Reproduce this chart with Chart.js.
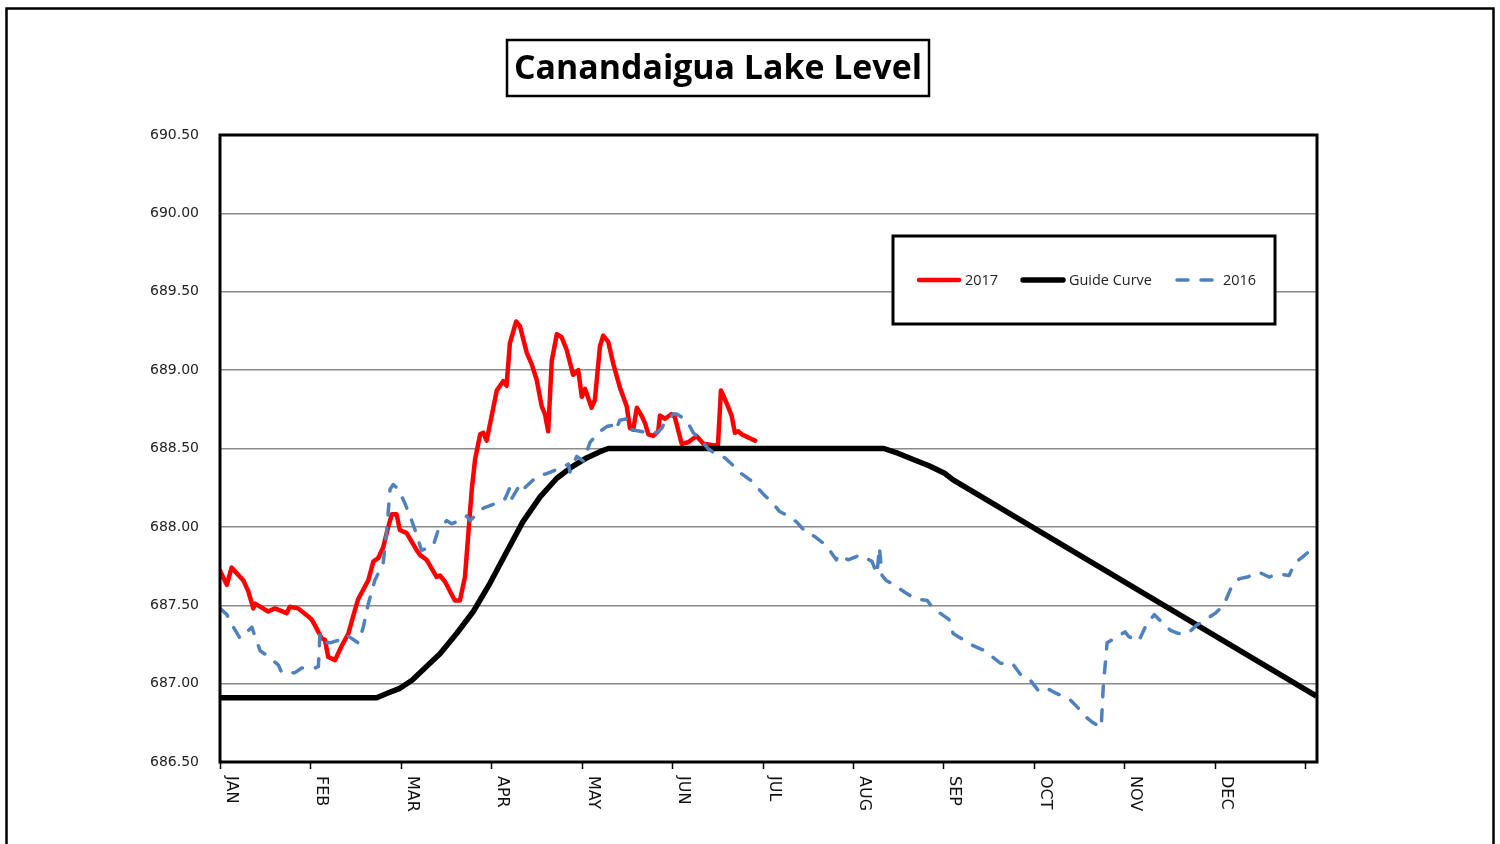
<!DOCTYPE html>
<html>
<head>
<meta charset="utf-8">
<script src="https://cdn.jsdelivr.net/npm/chart.js"></script>
<style>
  html, body { margin: 0; padding: 0; background: #ffffff; }
  #wrap { width: 1500px; height: 844px; position: relative; }
</style>
</head>
<body>
<div id="wrap"><canvas id="c" width="1500" height="844"></canvas></div>
<script>
// ---------- DATA ----------
const chartTitle = 'Canandaigua Lake Level';
const monthLabels = ['JAN','FEB','MAR','APR','MAY','JUN','JUL','AUG','SEP','OCT','NOV','DEC'];
const monthTickDays = [0, 30.4, 60.8, 91.3, 121.7, 152.1, 182.5, 212.9, 243.3, 273.8, 304.2, 334.6, 365];
const yTickLabels = ['686.50','687.00','687.50','688.00','688.50','689.00','689.50','690.00','690.50'];

const days2017 = [0,2.3,3.9,7.8,9.5,11.2,11.8,16.2,18.5,22.4,23.5,26.3,30.8,32.0,34.2,35.3,36.4,38.7,40.9,43.2,44.8,46.5,49.9,51.6,53.2,54.9,56.6,57.8,59.4,60.5,62.8,66.2,67.3,69.5,72.9,74.0,75.7,79.0,80.7,82.4,84.7,85.8,87.5,88.6,89.7,93.1,95.3,96.4,97.5,99.6,100.9,103.2,104.8,106.5,108.2,109.3,110.4,111.6,113.3,114.9,116.6,118.8,120.5,121.7,122.8,125.0,126.1,127.8,128.9,130.6,132.3,134.5,136.8,137.9,139.0,140.2,141.8,143.0,144.1,145.7,147.4,148.0,149.7,151.9,153.0,155.3,157.5,160.3,162.6,166.5,167.5,168.5,170.4,172.1,173.2,174.3,175.5,178.8,180.0];
const level2017 = [687.72,687.63,687.74,687.66,687.59,687.48,687.51,687.46,687.48,687.45,687.49,687.48,687.41,687.37,687.29,687.28,687.17,687.15,687.24,687.32,687.43,687.54,687.66,687.78,687.80,687.87,688.00,688.08,688.08,687.98,687.96,687.85,687.82,687.79,687.68,687.69,687.65,687.53,687.53,687.68,688.24,688.43,688.59,688.60,688.55,688.87,688.93,688.90,689.17,689.31,689.28,689.11,689.04,688.94,688.77,688.72,688.61,689.06,689.23,689.21,689.13,688.97,689.00,688.83,688.88,688.76,688.81,689.15,689.22,689.18,689.04,688.89,688.77,688.63,688.62,688.76,688.71,688.66,688.59,688.58,688.61,688.71,688.69,688.72,688.70,688.53,688.54,688.58,688.53,688.52,688.52,688.87,688.79,688.71,688.60,688.61,688.59,688.56,688.55];

const daysGuide = [0,52.7,56.5,60.5,64.5,68.4,74.0,79.6,85.2,90.8,96.4,101.8,107.6,113.3,118.1,123.3,127.8,130.6,223.3,228.0,233.2,238.5,243.9,246.6,368.8];
const levelGuide = [686.91,686.91,686.94,686.97,687.02,687.09,687.19,687.32,687.46,687.64,687.84,688.03,688.19,688.31,688.38,688.44,688.48,688.50,688.50,688.47,688.43,688.39,688.34,688.30,686.92];

const days2016 = [0,2.3,4.5,6.7,10.7,11.8,13.5,15.7,19.6,20.8,25.2,27.5,32.0,33.1,33.6,34.2,37.0,40.4,42.6,46.5,48.2,49.9,52.1,54.9,56.1,57.2,58.3,60.0,62.2,64.5,65.6,67.8,71.7,73.4,76.3,77.9,80.7,83.0,84.1,87.5,88.6,94.2,95.9,97.5,98.1,100.9,102.0,106.5,109.9,113.8,117.2,117.7,120.0,122.2,124.5,127.2,130.1,132.3,133.2,134.5,136.8,138.4,141.3,144.6,146.9,148.6,149.7,152.5,153.6,157.0,159.2,162.0,164.1,167.1,169.9,173.8,175.4,178.3,179.4,182.7,186.0,188.1,192.0,194.0,197.3,200.0,204.0,207.3,208.0,211.3,215.3,219.3,221.0,221.8,222.7,224.0,226.7,230.6,233.9,237.9,239.9,245.2,246.6,249.2,252.5,257.2,259.2,262.5,266.5,269.2,271.8,275.1,277.1,281.1,285.8,288.4,291.1,293.7,296.4,297.1,298.4,301.0,304.4,305.7,309.0,311.7,314.3,316.4,319.7,322.3,325.6,328.3,331.6,334.9,337.6,340.3,342.9,345.6,349.6,352.9,356.2,359.6,361.6,364.3,366.7,368.2];
const level2016 = [687.48,687.44,687.36,687.29,687.36,687.30,687.21,687.18,687.12,687.07,687.07,687.10,687.10,687.11,687.31,687.26,687.26,687.28,687.31,687.26,687.36,687.51,687.66,687.77,687.98,688.24,688.27,688.24,688.15,688.04,687.98,687.85,687.88,687.98,688.04,688.02,688.04,688.07,688.04,688.10,688.12,688.16,688.18,688.25,688.18,688.27,688.24,688.32,688.34,688.37,688.40,688.35,688.45,688.42,688.54,688.60,688.64,688.65,688.62,688.68,688.69,688.62,688.61,688.60,688.60,688.63,688.67,688.72,688.72,688.68,688.60,688.55,688.50,688.46,688.44,688.37,688.34,688.30,688.28,688.21,688.15,688.10,688.06,688.03,687.96,687.94,687.88,687.79,687.82,687.79,687.82,687.78,687.70,687.87,687.69,687.66,687.63,687.58,687.54,687.53,687.48,687.41,687.32,687.29,687.25,687.21,687.18,687.13,687.13,687.06,687.04,686.96,686.98,686.94,686.90,686.85,686.79,686.75,686.72,686.98,687.26,687.29,687.33,687.30,687.27,687.38,687.44,687.40,687.34,687.32,687.32,687.37,687.41,687.45,687.50,687.62,687.67,687.68,687.71,687.68,687.70,687.69,687.77,687.81,687.85,687.83];

const seriesNames = ['2017', 'Guide Curve', '2016'];

// ---------- BUILD ----------
const pts = (xs, ys) => xs.map((d, i) => ({ x: d, y: ys[i] }));

function fitSize(ctx, text, weight, family, width) {
  ctx.font = weight + ' 100px ' + family;
  return 100 * width / ctx.measureText(text).width;
}

const decorPlugin = {
  id: 'decor',
  afterDraw(chart) {
    const ctx = chart.ctx;
    const a = chart.chartArea;
    const xs = chart.scales.x;
    ctx.save();

    // outer frame
    ctx.strokeStyle = '#000';
    ctx.lineWidth = 2.5;
    ctx.strokeRect(6.5, 8.5, 1487, 900);

    // plot frame
    ctx.lineWidth = 3;
    ctx.strokeRect(a.left, a.top, a.right - a.left, a.bottom - a.top);

    // x tick marks + rotated labels
    ctx.lineWidth = 1.5;
    ctx.fillStyle = '#111';
    ctx.font = '16px "DejaVu Sans"';
    ctx.textBaseline = 'middle';
    ctx.textAlign = 'left';
    monthTickDays.forEach((d, i) => {
      const px = Math.round(xs.getPixelForValue(d)) + 0.5;
      ctx.beginPath();
      ctx.moveTo(px, a.bottom);
      ctx.lineTo(px, a.bottom + 7);
      ctx.stroke();
      if (i < monthLabels.length) {
        ctx.save();
        ctx.translate(px + 11, a.bottom + 14);
        ctx.rotate(Math.PI / 2);
        ctx.fillText(monthLabels[i], 0, 0);
        ctx.restore();
      }
    });

    // title box
    const tBox = { l: 507, t: 40, r: 929, b: 96 };
    ctx.lineWidth = 2.5;
    ctx.strokeRect(tBox.l, tBox.t, tBox.r - tBox.l, tBox.b - tBox.t);
    const ts = fitSize(ctx, chartTitle, 'bold', '"Open Sans"', 408);
    ctx.font = 'bold ' + ts.toFixed(2) + 'px "Open Sans"';
    ctx.fillStyle = '#000';
    ctx.textAlign = 'center';
    ctx.textBaseline = 'alphabetic';
    ctx.fillText(chartTitle, (tBox.l + tBox.r) / 2, 79);

    // legend box
    const lb = { l: 893, t: 236, r: 1275, b: 324 };
    ctx.fillStyle = '#fff';
    ctx.fillRect(lb.l, lb.t, lb.r - lb.l, lb.b - lb.t);
    ctx.lineWidth = 3;
    ctx.strokeStyle = '#000';
    ctx.strokeRect(lb.l, lb.t, lb.r - lb.l, lb.b - lb.t);
    const ls = fitSize(ctx, 'Guide Curve', 'normal', '"Open Sans"', 83);
    const starts = [917, 1021, 1175];
    const ly = 280;
    chart.data.datasets.forEach((ds, i) => {
      const x0 = starts[i];
      ctx.save();
      ctx.strokeStyle = ds.borderColor;
      ctx.lineWidth = ds.borderWidth;
      ctx.lineCap = 'round';
      ctx.setLineDash(ds.borderDash || []);
      ctx.beginPath();
      ctx.moveTo(x0 + 2, ly);
      ctx.lineTo(x0 + 42, ly);
      ctx.stroke();
      ctx.restore();
      ctx.font = ls.toFixed(2) + 'px "Open Sans"';
      ctx.fillStyle = '#222';
      ctx.textAlign = 'left';
      ctx.textBaseline = 'alphabetic';
      ctx.fillText(ds.label, x0 + 48, 285);
    });

    ctx.restore();
  }
};

new Chart(document.getElementById('c'), {
  type: 'line',
  data: {
    datasets: [
      { label: seriesNames[0], data: pts(days2017, level2017), borderColor: '#FF0000', borderWidth: 4.5, pointRadius: 0, tension: 0, borderJoinStyle: 'round', borderCapStyle: 'round', order: 3, fill: false },
      { label: seriesNames[1], data: pts(daysGuide, levelGuide), borderColor: '#000000', borderWidth: 5.5, pointRadius: 0, tension: 0, borderJoinStyle: 'round', order: 2, fill: false },
      { label: seriesNames[2], data: pts(days2016, level2016), borderColor: '#4F81BD', borderWidth: 3.5, borderDash: [11, 13], borderCapStyle: 'round', pointRadius: 0, tension: 0, borderJoinStyle: 'round', order: 1, fill: false }
    ]
  },
  options: {
    responsive: false,
    animation: false,
    devicePixelRatio: 1,
    layout: { padding: { top: 135, right: 183, left: 0, bottom: 0 } },
    plugins: { legend: { display: false }, title: { display: false }, tooltip: { enabled: false } },
    scales: {
      x: {
        type: 'linear', min: 0, max: 369,
        grid: { display: false },
        border: { display: false },
        ticks: { display: false },
        afterFit(s) { s.height = 82; }
      },
      y: {
        min: 686.5, max: 690.5,
        border: { display: false },
        grid: { color: '#8a8a8a', lineWidth: 1.5, drawTicks: false },
        ticks: {
          stepSize: 0.5,
          padding: 21,
          color: '#222',
          font: { family: '"DejaVu Sans"', size: 14 },
          callback: (v) => yTickLabels[Math.round((v - 686.5) / 0.5)]
        },
        afterFit(s) { s.width = 220; }
      }
    }
  },
  plugins: [decorPlugin]
});
</script>
</body>
</html>
